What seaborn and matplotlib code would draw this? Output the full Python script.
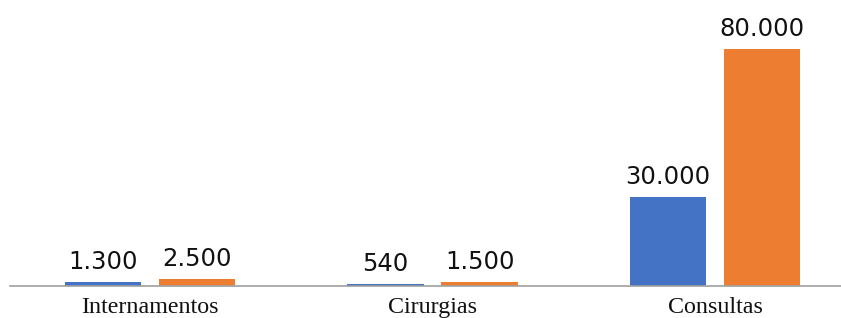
import pandas as pd
import seaborn as sns
from matplotlib import pyplot as plt

categories = ["Internamentos", "Cirurgias", "Consultas"]
series_names = ["Série 1", "Série 2"]
values_1 = [1300, 540, 30000]
values_2 = [2500, 1500, 80000]
value_labels_1 = ["1.300", "540", "30.000"]
value_labels_2 = ["2.500", "1.500", "80.000"]

df = pd.DataFrame({
    "categoria": categories * 2,
    "serie": [series_names[0]] * 3 + [series_names[1]] * 3,
    "valor": values_1 + values_2,
})

sns.set_style("white")

fig = plt.figure(figsize=(8.41, 3.18), dpi=100)
ax = fig.add_axes([10 / 841, 32 / 318, 831 / 841, 237 / 318])

sns.barplot(
    data=df,
    x="categoria",
    y="valor",
    hue="serie",
    palette=["#4472C4", "#ED7D31"],
    width=0.666,
    gap=0.19,
    saturation=1,
    linewidth=0,
    legend=False,
    ax=ax,
)

# value labels above each bar
for container, labels in zip(ax.containers, [value_labels_1, value_labels_2]):
    for bar, lab in zip(container, labels):
        ax.annotate(
            lab,
            (bar.get_x() + bar.get_width() / 2, bar.get_height()),
            xytext=(0, 9.4),
            textcoords="offset points",
            ha="center",
            va="baseline",
            fontsize=17.5,
            family="DejaVu Sans",
            color="#111111",
        )

ax.set_xlim(-0.496, 2.446)
ax.set_ylim(0, 80000)
ax.set_xlabel("")
ax.set_ylabel("")
ax.set_yticks([])
ax.tick_params(axis="x", length=0, pad=8)
for lab in ax.get_xticklabels():
    lab.set_fontfamily("Liberation Serif")
    lab.set_fontsize(17.3)
    lab.set_color("#111111")

for side in ["top", "left", "right"]:
    ax.spines[side].set_visible(False)
ax.spines["bottom"].set_color("#A0A0A0")
ax.spines["bottom"].set_linewidth(1.2)

fig.savefig("out.png", dpi=100)
